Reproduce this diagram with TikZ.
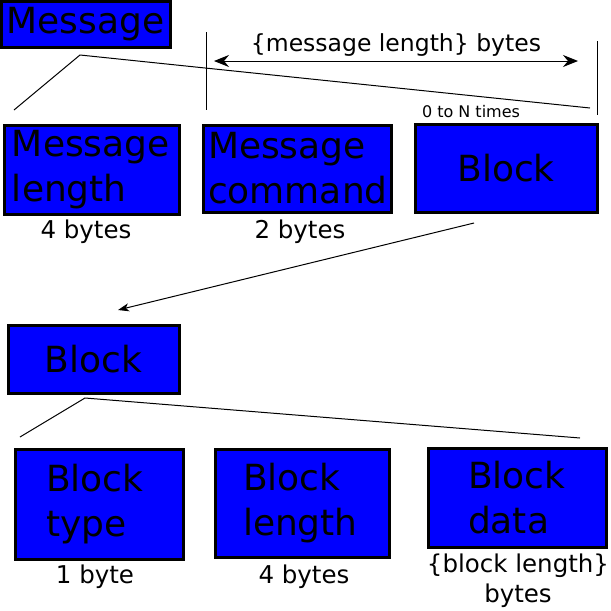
\documentclass[tikz,border=0pt]{standalone}
\usepackage{fontspec}
\setmainfont{DejaVu Sans}
\usetikzlibrary{arrows.meta}
\newcommand{\bigtxt}{\fontsize{36}{45}\selectfont}
\newcommand{\smalltxt}{\fontsize{24.5}{30}\selectfont}
\tikzset{
	fld/.style={draw, fill=blue, line width=3pt, inner sep=0pt, align=left, font=\bigtxt},
	lbl/.style={inner sep=0pt, anchor=base, align=center, font=\smalltxt},
	tips/.style={{Stealth[length=15pt,width=12pt,inset=5pt]}-{Stealth[length=15pt,width=12pt,inset=5pt]}}
}

\begin{document}
\begin{tikzpicture}[x=1pt,y=-1pt,line width=1pt]
	\useasboundingbox (0,0) rectangle (611,611);
	% message and its fields
	\node[fld, minimum width=169, minimum height=46, align=center] (msg) at (85.5,24) {Message};
	\node[fld, minimum width=175, minimum height=89, text width=159] (msglen) at (91.5,169.5) {Message\\length};
	\node[fld, minimum width=188, minimum height=87, text width=178] (msgcmd) at (297,168.5) {Message\\command};
	\node[fld, minimum width=182, minimum height=88, align=center] (blk) at (506,168.5) {Block};
	\node[lbl] (msglenb) at (86,238) {4 bytes};
	\node[lbl] (msgcmdb) at (300,238) {2 bytes};
	\node[lbl, font=\fontsize{16}{20}\selectfont] (times) at (471,117) {0 to N times};
	\coordinate (fanl) at (14,110);
	\coordinate (fant) at (80,55);
	\coordinate (fanr) at (590,108);
	\draw (fanl) -- (fant) -- (fanr);
	\coordinate (ltop) at (206,32);
	\coordinate (lbot) at (206,110);
	\coordinate (rtop) at (597,41);
	\coordinate (rbot) at (597,115);
	\draw (ltop) -- (lbot);
	\draw (rtop) -- (rbot);
	\coordinate (spl) at (214,61);
	\coordinate (spr) at (578,61);
	\draw[tips] (spl) -- (spr);
	\node[lbl, font=\fontsize{23.5}{30}\selectfont] (span) at (396,51) {\{message length\} bytes};
	% block and its fields
	\node[fld, minimum width=171, minimum height=68, align=center] (blk2) at (93.5,359) {Block};
	\coordinate (arrs) at (474,223);
	\coordinate (arre) at (118,310);
	\draw[-{Stealth[length=11pt,width=8pt,inset=3pt]}] (arrs) -- (arre);
	\coordinate (fan2l) at (20,437);
	\coordinate (fan2t) at (85,398);
	\coordinate (fan2r) at (580,438);
	\draw (fan2l) -- (fan2t) -- (fan2r);
	\node[fld, minimum width=168, minimum height=110, text width=106] (btype) at (99,504) {Block\\type};
	\node[fld, minimum width=174, minimum height=108, text width=118] (blen) at (302,503) {Block\\length};
	\node[fld, minimum width=178, minimum height=99, text width=98] (bdata) at (517,497.5) {Block\\data};
	\node[lbl] (btypeb) at (95,583) {1 byte};
	\node[lbl] (blenb) at (304,583) {4 bytes};
	\node[lbl] (bdatab) at (518,572) {\{block length\}};
	\node[lbl] (bdatab2) at (518,602) {bytes};
\end{tikzpicture}
\end{document}
